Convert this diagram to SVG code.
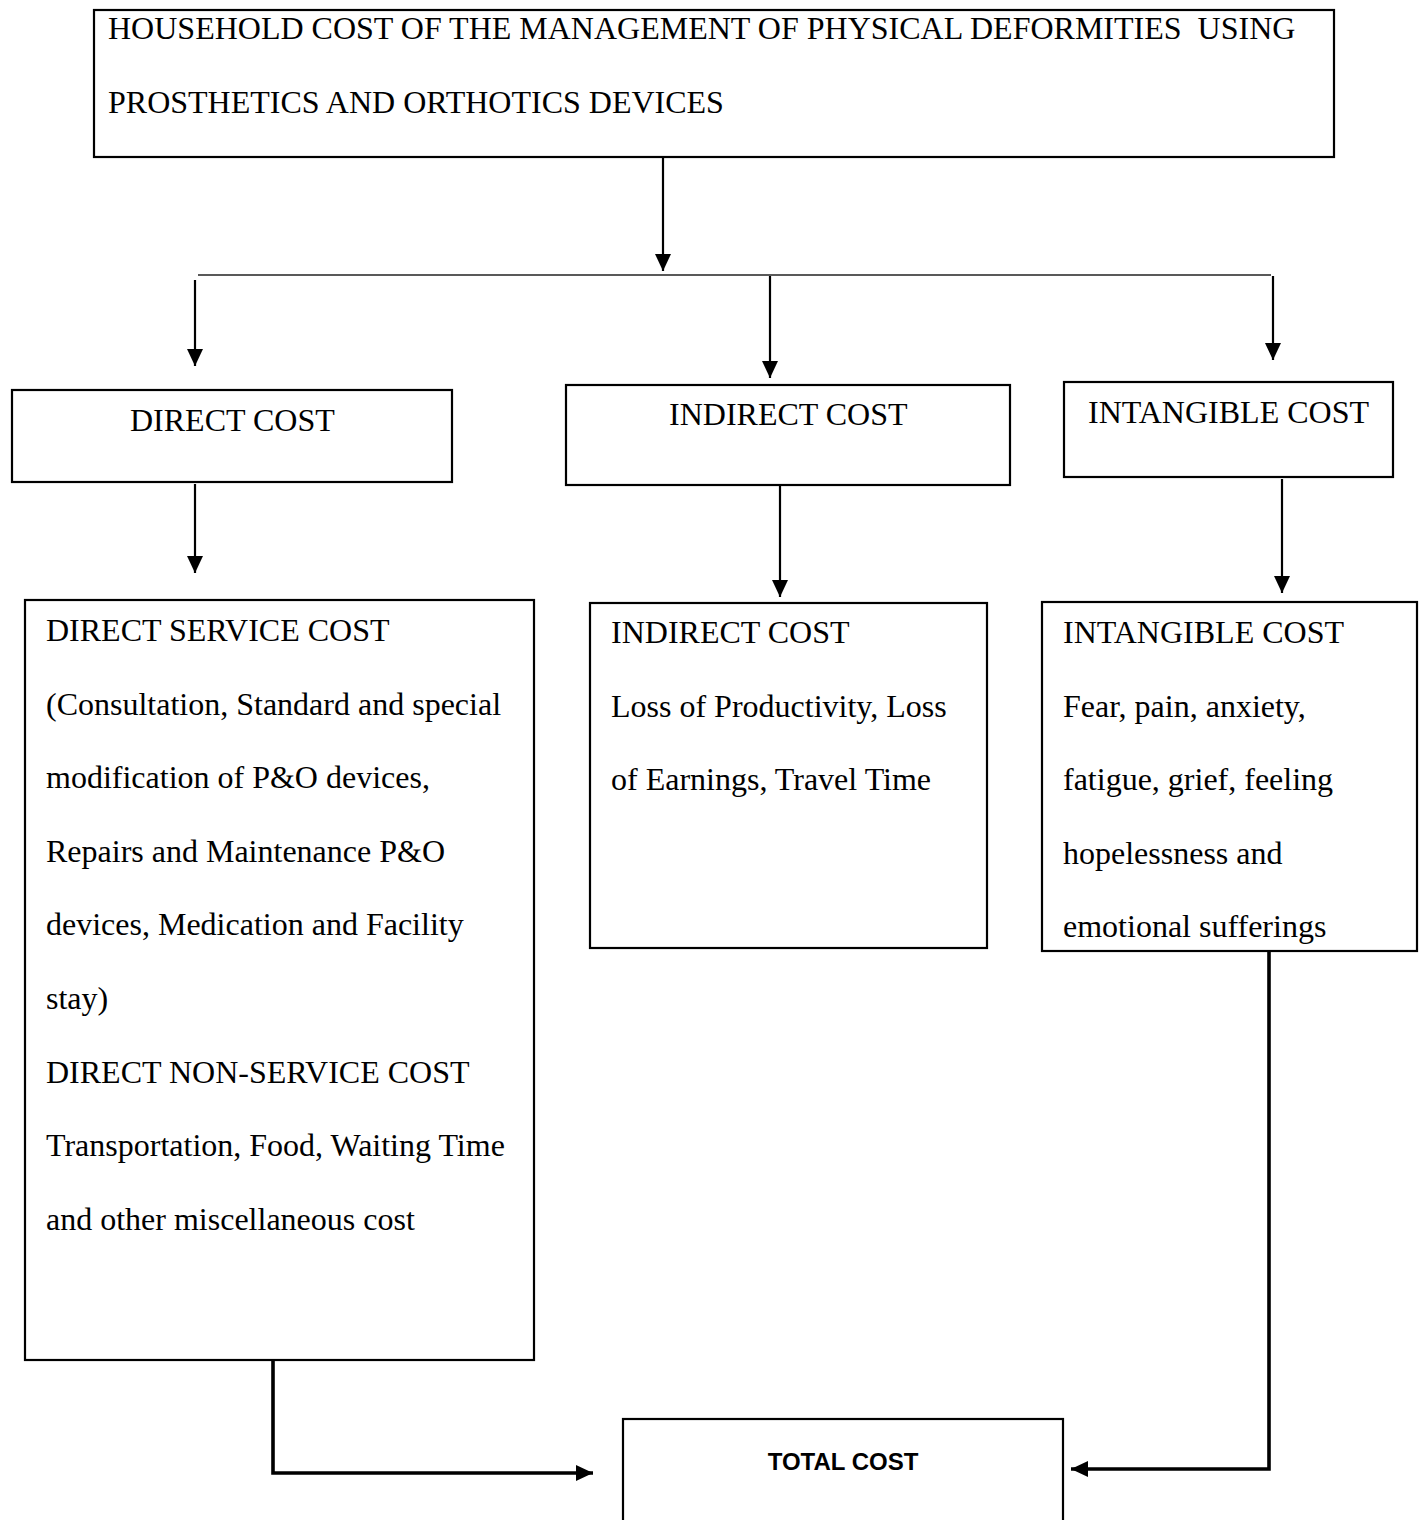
<svg xmlns="http://www.w3.org/2000/svg" width="1424" height="1520" viewBox="0 0 1424 1520">
<style>
.box{fill:#fff;stroke:#000;stroke-width:2.2}
.t{font-family:"Liberation Serif","Times New Roman",serif;font-size:32px;fill:#000}
.b{font-family:"Liberation Sans",Arial,sans-serif;font-size:24px;font-weight:bold;fill:#000}
.c{fill:none;stroke:#000;stroke-width:2.2}
.thick{fill:none;stroke:#000;stroke-width:3.6}
.hline{fill:none;stroke:#222;stroke-width:1.6}
</style>
<defs>
<marker id="ah" markerUnits="userSpaceOnUse" markerWidth="18" markerHeight="18" refX="17" refY="8" orient="auto">
<path d="M0,0 L17,8 L0,16 z" fill="#000"/>
</marker>
</defs>
<rect width="1424" height="1520" fill="#fff"/>
<g id="connectors">
<line class="c" x1="663" y1="158" x2="663" y2="271" marker-end="url(#ah)"/>
<line class="hline" x1="198" y1="275" x2="1271" y2="275"/>
<line class="c" x1="195" y1="280" x2="195" y2="366" marker-end="url(#ah)"/>
<line class="c" x1="770" y1="276" x2="770" y2="378" marker-end="url(#ah)"/>
<line class="c" x1="1273" y1="276" x2="1273" y2="360" marker-end="url(#ah)"/>
<line class="c" x1="195" y1="484" x2="195" y2="573" marker-end="url(#ah)"/>
<line class="c" x1="780" y1="486" x2="780" y2="597" marker-end="url(#ah)"/>
<line class="c" x1="1282" y1="479" x2="1282" y2="593" marker-end="url(#ah)"/>
<polyline class="thick" points="273,1360 273,1473 593,1473" marker-end="url(#ah)"/>
<polyline class="thick" points="1269,951 1269,1469 1071,1469" marker-end="url(#ah)"/>
</g>
<g id="node-top">
<rect class="box" x="94" y="10" width="1240" height="147"/>
<text class="t" x="108" y="39" xml:space="preserve">HOUSEHOLD COST OF THE MANAGEMENT OF PHYSICAL DEFORMITIES  USING</text>
<text class="t" x="108" y="113">PROSTHETICS AND ORTHOTICS DEVICES</text>
</g>
<g id="node-direct">
<rect class="box" x="12" y="390" width="440" height="92"/>
<text class="t" x="130" y="431">DIRECT COST</text>
</g>
<g id="node-indirect">
<rect class="box" x="566" y="385" width="444" height="100"/>
<text class="t" x="669" y="425">INDIRECT COST</text>
</g>
<g id="node-intangible">
<rect class="box" x="1064" y="382" width="329" height="95"/>
<text class="t" x="1088" y="423">INTANGIBLE COST</text>
</g>
<g id="node-direct-detail">
<rect class="box" x="25" y="600" width="509" height="760"/>
<text class="t" x="46" y="641">DIRECT SERVICE COST</text>
<text class="t" x="46" y="714.6">(Consultation, Standard and special</text>
<text class="t" x="46" y="788.2">modification of P&amp;O devices,</text>
<text class="t" x="46" y="861.8">Repairs and Maintenance P&amp;O</text>
<text class="t" x="46" y="935.4">devices, Medication and Facility</text>
<text class="t" x="46" y="1009">stay)</text>
<text class="t" x="46" y="1082.6">DIRECT NON-SERVICE COST</text>
<text class="t" x="46" y="1156.2">Transportation, Food, Waiting Time</text>
<text class="t" x="46" y="1229.8">and other miscellaneous cost</text>
</g>
<g id="node-indirect-detail">
<rect class="box" x="590" y="603" width="397" height="345"/>
<text class="t" x="611" y="643">INDIRECT COST</text>
<text class="t" x="611" y="716.6">Loss of Productivity, Loss</text>
<text class="t" x="611" y="790.2">of Earnings, Travel Time</text>
</g>
<g id="node-intangible-detail">
<rect class="box" x="1042" y="602" width="375" height="349"/>
<text class="t" x="1063" y="643">INTANGIBLE COST</text>
<text class="t" x="1063" y="716.6">Fear, pain, anxiety,</text>
<text class="t" x="1063" y="790.2">fatigue, grief, feeling</text>
<text class="t" x="1063" y="863.8">hopelessness and</text>
<text class="t" x="1063" y="937.4">emotional sufferings</text>
</g>
<g id="node-total">
<rect class="box" x="623" y="1419" width="440" height="120"/>
<text class="b" x="843" y="1470" text-anchor="middle">TOTAL COST</text>
</g>
</svg>
